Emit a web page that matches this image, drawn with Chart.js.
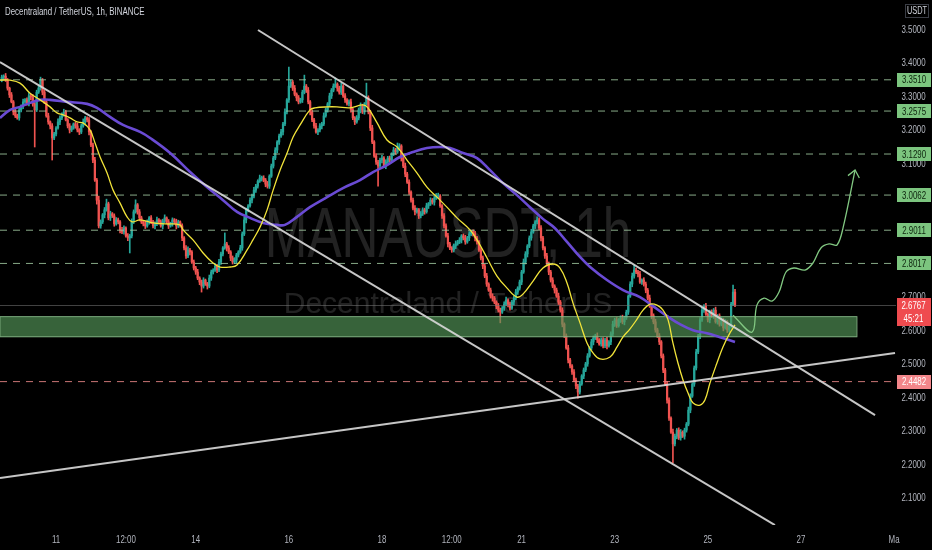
<!DOCTYPE html>
<html>
<head>
<meta charset="utf-8">
<title>MANAUSDT 1h</title>
<script src="https://cdn.jsdelivr.net/npm/chart.js@4.4.1/dist/chart.umd.min.js"></script>
<style>
    html, body { margin: 0; padding: 0; background: #000; }
    #wrap { position: relative; width: 932px; height: 550px; }
</style>
</head>
<body>
<div id="wrap"><canvas id="chart"></canvas></div>
<script>
// hours are counted from 11 Feb 00:00, one candle per hour
var firstHour = -28;
var firstOpen = 3.350;

var closes = [
    3.359,3.362,3.350,3.326,3.306,3.285,3.255,3.243,3.237,3.261,
    3.273,3.285,3.291,3.279,3.303,3.300,3.279,3.261,3.314,3.326,
    3.350,3.314,3.285,3.243,3.225,3.213,3.177,3.189,3.207,3.225,
    3.237,3.249,3.255,3.231,3.213,3.201,3.207,3.219,3.213,3.201,
    3.195,3.213,3.225,3.237,3.231,3.195,3.156,3.111,3.051,2.991,
    2.914,2.926,2.947,2.962,2.980,2.938,2.950,2.944,2.920,2.932,
    2.926,2.902,2.896,2.908,2.884,2.878,2.884,2.926,2.956,2.977,
    2.956,2.938,2.926,2.920,2.914,2.926,2.938,2.926,2.914,2.920,
    2.932,2.926,2.914,2.929,2.938,2.926,2.914,2.920,2.932,2.926,
    2.914,2.926,2.914,2.878,2.848,2.824,2.842,2.836,2.806,2.788,
    2.776,2.758,2.746,2.734,2.752,2.740,2.734,2.758,2.776,2.782,
    2.794,2.782,2.806,2.830,2.848,2.860,2.848,2.836,2.818,2.806,
    2.812,2.827,2.836,2.848,2.890,2.932,2.962,2.974,2.991,3.003,
    3.021,3.033,3.048,3.057,3.057,3.051,3.039,3.033,3.063,3.093,
    3.117,3.141,3.165,3.183,3.195,3.219,3.255,3.291,3.332,3.344,
    3.326,3.308,3.297,3.285,3.291,3.314,3.332,3.320,3.285,3.255,
    3.231,3.213,3.195,3.201,3.213,3.219,3.243,3.261,3.279,3.303,
    3.320,3.332,3.338,3.326,3.314,3.332,3.303,3.291,3.279,3.285,
    3.261,3.237,3.225,3.237,3.261,3.273,3.255,3.279,3.297,3.255,
    3.207,3.165,3.123,3.105,3.093,3.111,3.117,3.093,3.105,3.117,
    3.111,3.129,3.141,3.135,3.147,3.153,3.117,3.093,3.069,3.045,
    3.015,2.991,2.967,2.956,2.962,2.944,2.950,2.962,2.956,2.974,
    2.980,2.991,2.985,2.997,3.003,3.003,2.974,2.944,2.914,2.884,
    2.860,2.848,2.842,2.854,2.860,2.866,2.872,2.884,2.878,2.866,
    2.878,2.890,2.896,2.890,2.878,2.866,2.842,2.818,2.794,2.764,
    2.740,2.722,2.704,2.698,2.686,2.674,2.662,2.656,2.668,2.680,
    2.692,2.680,2.668,2.686,2.698,2.716,2.728,2.746,2.776,2.806,
    2.830,2.854,2.878,2.896,2.914,2.926,2.932,2.908,2.878,2.848,
    2.824,2.800,2.776,2.752,2.734,2.722,2.704,2.686,2.662,2.620,
    2.585,2.549,2.513,2.495,2.477,2.453,2.435,2.417,2.441,2.465,
    2.483,2.501,2.525,2.549,2.567,2.579,2.585,2.573,2.561,2.573,
    2.555,2.573,2.555,2.567,2.591,2.620,2.633,2.615,2.633,2.639,
    2.627,2.639,2.656,2.704,2.740,2.764,2.782,2.776,2.770,2.746,
    2.752,2.740,2.722,2.698,2.674,2.645,2.627,2.603,2.585,2.567,
    2.525,2.483,2.441,2.393,2.339,2.297,2.262,2.285,2.303,2.280,
    2.297,2.285,2.303,2.321,2.363,2.405,2.441,2.489,2.537,2.585,
    2.633,2.662,2.674,2.650,2.633,2.656,2.645,2.662,2.627,2.645,
    2.620,2.633,2.609,2.627,2.603,2.615,2.680,2.716,2.6767
];

// upper / lower shadows, in thousandths
var wickUp = [
    6,4,8,5,3,7,4,9,5,6,3,8,4,6,10,5,7,4,6,9,
    9,5,6,4,8,3,7,5,4,9,6,3,8,5,4,7,6,3,5,8,
    4,6,9,5,3,7,4,6,8,5,12,6,4,7,14,5,8,4,6,7,
    5,4,8,6,3,7,5,9,6,15,4,7,5,3,8,6,4,7,5,6,
    8,4,6,5,9,3,7,5,6,4,8,5,3,6,4,7,9,5,4,6,
    5,8,4,6,7,3,5,9,6,4,7,5,8,6,4,33,5,7,4,6,
    7,5,4,8,6,9,5,4,7,6,8,5,4,9,6,7,5,8,4,6,
    5,7,4,6,8,5,9,4,57,6,5,8,4,7,5,6,33,5,8,4,
    6,5,8,4,7,5,9,6,4,8,5,7,18,4,6,9,5,7,4,6,
    8,5,4,7,6,9,5,4,44,6,5,8,4,7,5,6,8,4,7,5,
    6,4,8,5,15,7,4,6,9,5,7,4,6,8,5,4,7,6,5,8,
    4,7,5,6,8,9,5,4,7,6,8,5,4,6,9,5,7,4,6,8,
    5,7,4,6,8,5,4,7,6,5,8,4,6,7,5,4,8,6,5,7,
    9,4,6,5,7,8,4,6,5,9,7,4,6,8,5,4,9,6,7,5,
    4,8,6,5,7,4,6,9,5,7,4,6,8,5,4,7,6,5,8,4,
    6,5,7,4,8,6,5,9,4,6,7,5,8,4,6,9,5,7,4,6,
    8,5,6,4,7,9,15,6,5,8,4,7,6,5,9,4,6,8,5,7,
    4,6,5,8,7,4,9,6,5,7,8,4,6,5,9,7,4,6,8,5,
    7,9,5,8,4,6,7,5,9,4,6,8,5,7,4,6,5,21,8
];
var wickDn = [
    5,7,4,6,8,3,9,5,4,7,6,8,5,4,6,9,7,111,5,4,
    6,8,5,4,7,9,66,5,6,4,8,5,7,3,6,9,5,4,7,6,
    8,5,4,7,6,9,5,8,4,12,6,7,5,9,4,6,8,5,7,4,
    6,9,5,7,4,8,45,6,5,4,7,9,5,6,8,4,7,5,6,9,
    5,7,4,9,6,5,8,4,7,6,9,5,4,8,6,7,5,9,4,6,
    7,5,8,18,6,4,9,5,7,6,4,8,5,7,6,4,9,5,8,6,
    5,8,6,4,7,5,9,6,4,8,5,7,6,4,9,5,8,6,7,4,
    6,5,8,7,4,9,5,6,8,4,7,5,9,6,4,8,5,7,6,9,
    5,7,4,8,6,9,5,4,7,6,8,5,4,9,6,7,5,8,4,6,
    7,5,8,4,6,9,5,7,4,6,8,5,4,7,60,6,9,5,8,4,
    6,8,5,7,4,6,9,5,8,4,7,6,5,9,4,8,6,5,7,4,
    8,5,6,9,4,7,5,8,6,4,9,5,7,6,8,4,5,9,6,7,
    4,8,5,6,9,7,4,6,8,5,7,4,6,9,5,8,6,32,4,7,
    5,8,6,4,9,5,7,6,8,4,6,9,5,7,4,8,6,5,9,6,
    7,4,8,6,5,9,4,7,6,8,5,4,9,6,7,5,8,18,6,4,
    8,5,7,4,6,9,5,8,4,7,6,5,9,4,8,6,7,5,4,8,
    6,9,5,7,4,8,6,5,9,4,7,6,8,5,4,9,6,7,5,8,
    6,8,5,9,7,4,57,6,8,5,7,4,9,6,5,8,4,7,6,5,
    8,5,7,4,6,9,5,8,4,7,6,5,9,4,8,6,7,5,4
];

// yellow (fast) and purple (slow) moving averages
var fastMaHours = [-28.9,-23.7,-18.6,-13.4,-8.2,-3.1,0.5,3.6,7.2,10.8,13.9,17.5,20.1,22.7,26.3,29.4,33.0,36.6,39.2,43.3,
    50.0,56.2,63.9,65.5,70.6,75.8,80.9,84.5,89.7,93.3,98.5,101.5,105.2,108.8,111.9,115.5,119.1,122.2,125.8,130.9,
    133.5,139.7,144.8,151.5,158.2,160.8,165.5,170.6,175.8,180.9,186.1,191.2,196.4,201.5,206.7,213.4,217.0,222.2,227.3,232.5,
    237.6,240.7,245.9,251.0,256.2,259.8,263.4,266.5,270.1,273.7,276.8,280.4,285.6,289.2,292.3,295.9,299.5,302.6,306.2,309.8,
    312.9,315.5,318.0,320.6,323.2,325.8,328.4,332.0,334.5,337.1,340.7,343.8,347.4,350.0];
var fastMaValues = [3.350,3.350,3.341,3.311,3.291,3.270,3.252,3.246,3.237,3.225,3.222,3.201,3.162,3.120,3.072,3.021,2.982,2.941,2.926,2.932,
    2.923,2.920,2.917,2.902,2.872,2.833,2.803,2.791,2.791,2.797,2.842,2.872,2.911,2.962,3.021,3.081,3.132,3.180,3.216,3.261,
    3.267,3.270,3.270,3.267,3.276,3.267,3.222,3.171,3.150,3.111,3.072,3.030,3.000,2.970,2.938,2.902,2.872,2.818,2.764,2.728,
    2.701,2.710,2.749,2.788,2.800,2.788,2.743,2.683,2.624,2.564,2.534,2.516,2.522,2.552,2.582,2.606,2.635,2.662,2.680,2.677,
    2.662,2.633,2.564,2.504,2.453,2.414,2.384,2.378,2.393,2.444,2.504,2.552,2.594,2.618];

var slowMaHours = [-28.9,-23.7,-18.6,-13.4,-8.2,-3.1,5.7,16.0,21.1,27.8,34.5,43.3,48.5,58.8,69.1,77.8,86.1,93.3,100.0,106.7,
    113.9,118.0,124.2,130.9,139.7,147.9,156.7,163.4,170.6,177.3,184.0,191.2,197.9,203.1,209.8,217.0,223.7,230.4,237.6,244.3,
    251.0,257.2,263.4,270.1,275.3,284.0,292.3,301.0,307.7,315.0,321.6,328.4,335.6,342.3,350.0];
var slowMaValues = [3.237,3.261,3.270,3.282,3.291,3.291,3.285,3.279,3.267,3.240,3.216,3.195,3.177,3.132,3.075,3.030,2.991,2.956,2.938,2.923,
    2.917,2.917,2.941,2.970,3.000,3.027,3.051,3.075,3.096,3.120,3.135,3.147,3.150,3.147,3.132,3.117,3.081,3.042,3.006,2.970,
    2.935,2.907,2.866,2.821,2.791,2.752,2.722,2.701,2.674,2.644,2.620,2.602,2.593,2.581,2.567];

// drawings
var channelUpperHours = [104.1, 422.2];
var channelUpperValues = [3.500, 2.348];
var channelLowerHours = [-28.9, 370.6];
var channelLowerValues = [3.404, 2.019];
var supportLineHours = [-28.9, 432.5];
var supportLineValues = [2.160, 2.534];

var resistanceLevels = [3.3510, 3.2575, 3.1290, 3.0062, 2.9011, 2.8017];
var supportLevels = [2.4482];

var zoneHours = [-28.9, 412.9];
var zoneValues = [2.644, 2.581];

var projectionHours = [349.0, 358.8, 361.3, 365.0, 369.1, 372.7, 376.3, 380.4, 386.1, 390.2, 394.3, 398.5, 402.6, 405.7, 411.9];
var projectionValues = [2.647, 2.596, 2.677, 2.698, 2.689, 2.716, 2.776, 2.788, 2.782, 2.803, 2.848, 2.860, 2.857, 2.908, 3.081];

// axes
var priceTicks = [2.1, 2.2, 2.3, 2.4, 2.5, 2.6, 2.7, 2.8, 2.9, 3.0, 3.1, 3.2, 3.3, 3.4, 3.5];
var timeTickHours = [0, 36, 72, 120, 168, 204, 240, 288, 336, 384, 432];
var timeTickLabels = ['11', '12:00', '14', '16', '18', '12:00', '21', '23', '25', '27', 'Ma'];

var lastPrice = 2.6767;
var countdown = '45:21';

var X_MIN = -28.9, X_MAX = 433;
var Y_MIN = 2.0193, Y_MAX = 3.5897;

var UP = '#26a69a', DOWN = '#ef5350';
var FONT = "'Liberation Sans', Arial, sans-serif";

// build OHLC
var opens = [], highs = [], lows = [];
for (var k = 0; k < closes.length; k++) {
    var o = k === 0 ? firstOpen : closes[k - 1];
    var c = closes[k];
    opens.push(o);
    highs.push(Math.max(o, c) + (wickUp[k] || 0) / 1000);
    lows.push(Math.min(o, c) - (wickDn[k] || 0) / 1000);
}

var wickData = [], bodyData = [], candleColors = [];
for (var i = 0; i < closes.length; i++) {
    wickData.push({ x: firstHour + i, y: [lows[i], highs[i]] });
    bodyData.push({ x: firstHour + i, y: [opens[i], closes[i]] });
    candleColors.push(closes[i] >= opens[i] ? UP : DOWN);
}

function toPoints(hours, values) {
    var pts = [];
    var n = Math.min(hours.length, values.length);
    for (var i = 0; i < n; i++) pts.push({ x: hours[i], y: values[i] });
    return pts;
}

function lineSet(points, color, width, order, extra) {
    var ds = {
        type: 'line',
        data: points,
        borderColor: color,
        borderWidth: width,
        pointRadius: 0,
        fill: false,
        tension: 0,
        order: order
    };
    for (var key in extra) ds[key] = extra[key];
    return ds;
}

var datasets = [
    {
        type: 'bar', data: wickData, backgroundColor: candleColors,
        barThickness: 1, grouped: false, borderWidth: 0, order: 30
    },
    {
        type: 'bar', data: bodyData, backgroundColor: candleColors,
        barThickness: 1.6, grouped: false, borderWidth: 0, minBarLength: 1, order: 29
    }
];
var BODY_INDEX = 1;

resistanceLevels.forEach(function(lv) {
    datasets.push(lineSet([{ x: X_MIN, y: lv }, { x: X_MAX, y: lv }], 'rgba(160,200,160,0.85)', 1, 20, { borderDash: [7, 6] }));
});
supportLevels.forEach(function(lv) {
    datasets.push(lineSet([{ x: X_MIN, y: lv }, { x: X_MAX, y: lv }], 'rgba(225,130,130,0.9)', 1, 20, { borderDash: [7, 6] }));
});

datasets.push(lineSet(toPoints(slowMaHours, slowMaValues), '#6a4bd4', 2.6, 6, { tension: 0.4 }));
datasets.push(lineSet(toPoints(fastMaHours, fastMaValues), '#f2e43a', 1.3, 5, { tension: 0.4 }));
datasets.push(lineSet(toPoints(channelUpperHours, channelUpperValues), 'rgba(215,215,215,0.92)', 2, 4));
datasets.push(lineSet(toPoints(channelLowerHours, channelLowerValues), 'rgba(215,215,215,0.92)', 2, 4));
datasets.push(lineSet(toPoints(supportLineHours, supportLineValues), 'rgba(215,215,215,0.92)', 2, 4));
datasets.push(lineSet(toPoints(projectionHours, projectionValues), '#82c882', 1.3, 3, { tension: 0.35 }));

// small helper: text squeezed horizontally like the source screenshot
function squeezedText(ctx, text, x, y, font, color, sx, align) {
    ctx.save();
    ctx.font = font;
    ctx.fillStyle = color;
    ctx.textBaseline = 'middle';
    ctx.textAlign = align || 'center';
    ctx.translate(x, y);
    ctx.scale(sx, 1);
    ctx.fillText(text, 0, 0);
    ctx.restore();
}

function priceBox(ctx, chart, value, fill, textColor) {
    var y = chart.scales.y.getPixelForValue(value);
    var left = chart.chartArea.right + 1;
    ctx.fillStyle = fill;
    ctx.fillRect(left, Math.round(y) - 7, 34, 14);
    squeezedText(ctx, value.toFixed(4), left + 17, y + 0.5, '11px ' + FONT, textColor, 0.72);
}

var tvDecor = {
    id: 'tvDecor',
    beforeDraw: function(chart) {
        var ctx = chart.ctx;
        ctx.save();
        ctx.fillStyle = '#000';
        ctx.fillRect(0, 0, chart.width, chart.height);
        ctx.restore();
    },
    beforeDatasetsDraw: function(chart) {
        var ctx = chart.ctx, a = chart.chartArea;
        var cx = (a.left + a.right) / 2;
        ctx.save();
        ctx.beginPath();
        ctx.rect(a.left, a.top, a.right - a.left, a.bottom - a.top);
        ctx.clip();
        ctx.textBaseline = 'alphabetic';
        ctx.fillStyle = 'rgba(255,255,255,0.135)';
        ctx.textAlign = 'center';
        ctx.save();
        ctx.translate(cx, 257);
        ctx.scale(0.73, 1);
        ctx.font = '70px ' + FONT;
        ctx.fillText('MANAUSDT, 1h', 0, 0);
        ctx.restore();
        ctx.font = '30px ' + FONT;
        ctx.fillText('Decentraland / TetherUS', cx, 313);
        ctx.restore();
    },
    afterDatasetDraw: function(chart, args) {
        if (args.index !== BODY_INDEX) return;
        var ctx = chart.ctx, xs = chart.scales.x, ys = chart.scales.y, a = chart.chartArea;
        ctx.save();
        // current price line
        var py = Math.round(ys.getPixelForValue(lastPrice)) + 0.5;
        ctx.strokeStyle = 'rgba(120,120,120,0.55)';
        ctx.lineWidth = 1;
        ctx.beginPath();
        ctx.moveTo(a.left, py);
        ctx.lineTo(a.right, py);
        ctx.stroke();
        // demand zone
        var x1 = xs.getPixelForValue(zoneHours[0]), x2 = xs.getPixelForValue(zoneHours[1]);
        var y1 = ys.getPixelForValue(zoneValues[0]), y2 = ys.getPixelForValue(zoneValues[1]);
        ctx.fillStyle = 'rgba(84,150,88,0.66)';
        ctx.fillRect(x1, y1, x2 - x1, y2 - y1);
        ctx.strokeStyle = 'rgba(150,195,150,0.7)';
        ctx.strokeRect(x1, y1 + 0.5, x2 - x1, y2 - y1 - 1);
        ctx.restore();
    },
    afterDatasetsDraw: function(chart) {
        // arrow head on the projection path
        var ctx = chart.ctx, xs = chart.scales.x, ys = chart.scales.y;
        var n = projectionHours.length;
        var tx = xs.getPixelForValue(projectionHours[n - 1]), ty = ys.getPixelForValue(projectionValues[n - 1]);
        var bx = xs.getPixelForValue(projectionHours[n - 2]), by = ys.getPixelForValue(projectionValues[n - 2]);
        var ang = Math.atan2(by - ty, bx - tx);
        ctx.save();
        ctx.strokeStyle = '#82c882';
        ctx.lineWidth = 1.3;
        ctx.beginPath();
        ctx.moveTo(tx + 9 * Math.cos(ang + 0.7), ty + 9 * Math.sin(ang + 0.7));
        ctx.lineTo(tx, ty);
        ctx.lineTo(tx + 9 * Math.cos(ang - 0.7), ty + 9 * Math.sin(ang - 0.7));
        ctx.stroke();
        ctx.restore();
    },
    afterDraw: function(chart) {
        var ctx = chart.ctx, xs = chart.scales.x, ys = chart.scales.y, a = chart.chartArea;
        var axisMid = a.right + 17.5;
        ctx.save();

        // price scale
        priceTicks.forEach(function(v) {
            squeezedText(ctx, v.toFixed(4), axisMid, ys.getPixelForValue(v), '11px ' + FONT, '#b2b5be', 0.72);
        });
        // time scale
        timeTickHours.forEach(function(h, i) {
            squeezedText(ctx, timeTickLabels[i], xs.getPixelForValue(h), 540, '11px ' + FONT, '#b2b5be', 0.72);
        });

        resistanceLevels.forEach(function(lv) { priceBox(ctx, chart, lv, '#7cc57f', '#0d230d'); });
        supportLevels.forEach(function(lv) { priceBox(ctx, chart, lv, '#f3868a', '#ffffff'); });

        // last price with countdown
        var py = ys.getPixelForValue(lastPrice);
        ctx.fillStyle = '#ef4b4f';
        ctx.fillRect(a.right + 1, Math.round(py) - 7, 34, 28);
        squeezedText(ctx, lastPrice.toFixed(4), axisMid, py + 1, '11px ' + FONT, '#ffffff', 0.72);
        squeezedText(ctx, countdown, axisMid, py + 13.5, '11px ' + FONT, '#ffffff', 0.72);

        // currency badge
        ctx.strokeStyle = '#3a3d45';
        ctx.lineWidth = 1;
        ctx.strokeRect(905.5, 4.5, 23, 13);
        squeezedText(ctx, 'USDT', 917, 11.5, '10px ' + FONT, '#d1d4dc', 0.74);

        // symbol title
        squeezedText(ctx, 'Decentraland / TetherUS, 1h, BINANCE', 5, 12, '11px ' + FONT, '#d1d4dc', 0.72, 'left');
        ctx.restore();
    }
};

new Chart(document.getElementById('chart'), {
    type: 'bar',
    data: { datasets: datasets },
    options: {
        responsive: true,
        maintainAspectRatio: false,
        devicePixelRatio: 1,
        animation: false,
        events: [],
        layout: { padding: 0 },
        plugins: { legend: { display: false }, tooltip: { enabled: false } },
        scales: {
            x: {
                type: 'linear', min: X_MIN, max: X_MAX, offset: false,
                grid: { display: false }, border: { display: false },
                ticks: { display: false },
                afterFit: function(s) { s.height = 25; }
            },
            y: {
                type: 'linear', position: 'right', min: Y_MIN, max: Y_MAX,
                grid: { display: false }, border: { display: false },
                ticks: { display: false },
                afterFit: function(s) { s.width = 36; }
            }
        }
    },
    plugins: [tvDecor]
});
</script>
</body>
</html>
